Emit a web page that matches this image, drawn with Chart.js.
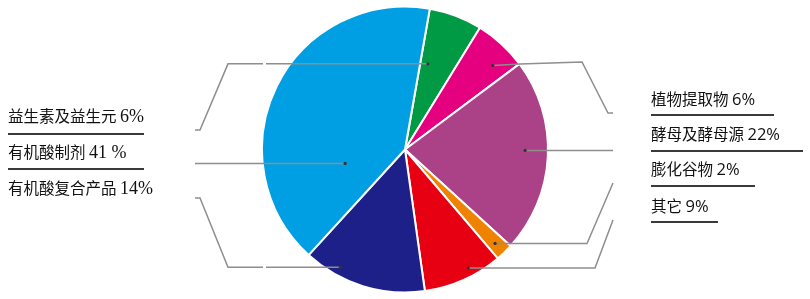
<!DOCTYPE html>
<html>
<head>
<meta charset="utf-8">
<script src="https://cdn.jsdelivr.net/npm/chart.js@4/dist/chart.umd.min.js"></script>
<style>
  html,body{margin:0;padding:0;background:#fff;}
  #wrap{position:relative;width:810px;height:299px;overflow:hidden;}
  #c{position:absolute;left:0;top:0;}
  .lbl{position:absolute;white-space:nowrap;font-family:"Noto Sans CJK SC","Noto Sans",sans-serif;font-size:15.5px;color:#111;line-height:20px;}
  .lbl .num{font-family:"Liberation Serif",serif;font-size:18px;}
  .lbl.r .num{font-family:"Open Sans","Noto Sans",sans-serif;font-size:16.5px;}
  .ul{position:absolute;height:2px;background:#3a3a3a;}
</style>
</head>
<body>
<div id="wrap"><canvas id="c" width="810" height="299"></canvas></div>
<script>
// ---- data ----
const categories = ['益生素及益生元','植物提取物','酵母及酵母源','膨化谷物','其它','有机酸复合产品','有机酸制剂'];
const values = [6, 6, 22, 2, 9, 14, 41];
const valueLabels = ['6%','6%','22%','2%','9%','14%','41 %'];
const colors = ['#009a44','#e4007f','#ab4287','#ef8200','#e60012','#1d2088','#009fe3'];

// label layout (index into categories), left and right columns
const leftOrder = [0, 6, 5];
const rightOrder = [1, 2, 3, 4];

// leader-line anchors: fraction along slice angle, fraction of radius
const anchors = [
  {t:0.23, r:0.62}, {t:0.68, r:0.85}, {t:0.47, r:0.84}, {t:0.53, r:0.91},
  {t:0.38, r:0.94}, {t:0.73, r:0.94}, {t:0.234, r:0.43}
];
// leader paths after anchor (null y = keep anchor y); 'gap' splits the line
const paths = [
  [[266,null],'gap',[263,null],[228,null],[200,130],[195,130]],
  [[520,64],[582,62],[608,113],[613,113]],
  [[613,null]],
  [[587,null],[613,183]],
  [[595,null],[613,220]],
  [[266,null],'gap',[263,null],[228,null],[200,198],[195,198]],
  [[195,null]]
];

const leaderPlugin = {
  id:'leaders',
  afterDatasetsDraw(chart){
    const ctx = chart.ctx;
    const arcs = chart.getDatasetMeta(0).data;
    ctx.save();
    arcs.forEach((arc, i) => {
      const p = arc.getProps(['x','y','startAngle','endAngle','outerRadius']);
      const a = anchors[i];
      const ang = p.startAngle + a.t*(p.endAngle - p.startAngle);
      const ax = p.x + a.r*p.outerRadius*Math.cos(ang);
      const ay = p.y + a.r*p.outerRadius*Math.sin(ang);
      ctx.strokeStyle = '#8e8e8e';
      ctx.lineWidth = 1.5;
      ctx.beginPath();
      ctx.moveTo(ax, ay);
      let pen = true;
      paths[i].forEach(pt => {
        if (pt === 'gap') { pen = false; return; }
        const x = pt[0], y = pt[1] === null ? ay : pt[1];
        if (pen) ctx.lineTo(x, y); else { ctx.moveTo(x, y); pen = true; }
      });
      ctx.stroke();
      ctx.fillStyle = '#333';
      ctx.beginPath();
      ctx.arc(ax, ay, 1.6, 0, Math.PI*2);
      ctx.fill();
    });
    ctx.restore();
  }
};

new Chart(document.getElementById('c'), {
  type:'pie',
  data:{
    labels: categories,
    datasets:[{
      data: values,
      backgroundColor: colors,
      borderColor:'#ffffff',
      borderWidth:2
    }]
  },
  options:{
    responsive:false,
    animation:false,
    rotation:10,
    layout:{padding:{top:5.5,bottom:5.5,left:0,right:0}},
    plugins:{legend:{display:false},tooltip:{enabled:false}}
  },
  plugins:[leaderPlugin]
});

// ---- HTML labels ----
const wrap = document.getElementById('wrap');
function addLabel(idx, x, cy, right){
  const d = document.createElement('div');
  d.className = 'lbl' + (right ? ' r' : '');
  d.style.left = x + 'px';
  d.style.top = (cy - 10) + 'px';
  d.innerHTML = categories[idx] + ' <span class="num">' + valueLabels[idx] + '</span>';
  wrap.appendChild(d);
}
function addUnderline(x1, x2, y){
  const u = document.createElement('div');
  u.className = 'ul';
  u.style.left = x1 + 'px';
  u.style.width = (x2 - x1) + 'px';
  u.style.top = (y - 1) + 'px';
  wrap.appendChild(u);
}
const leftY = [115, 151, 187];
leftOrder.forEach((idx, k) => addLabel(idx, 8, leftY[k], false));
addUnderline(8, 144, 134);
addUnderline(8, 144, 169);

const rightY = [98, 133, 168, 205];
rightOrder.forEach((idx, k) => addLabel(idx, 651, rightY[k], true));
addUnderline(651, 774, 115);
addUnderline(651, 803, 151);
addUnderline(651, 755, 186);
addUnderline(651, 718, 222);
</script>
</body>
</html>
